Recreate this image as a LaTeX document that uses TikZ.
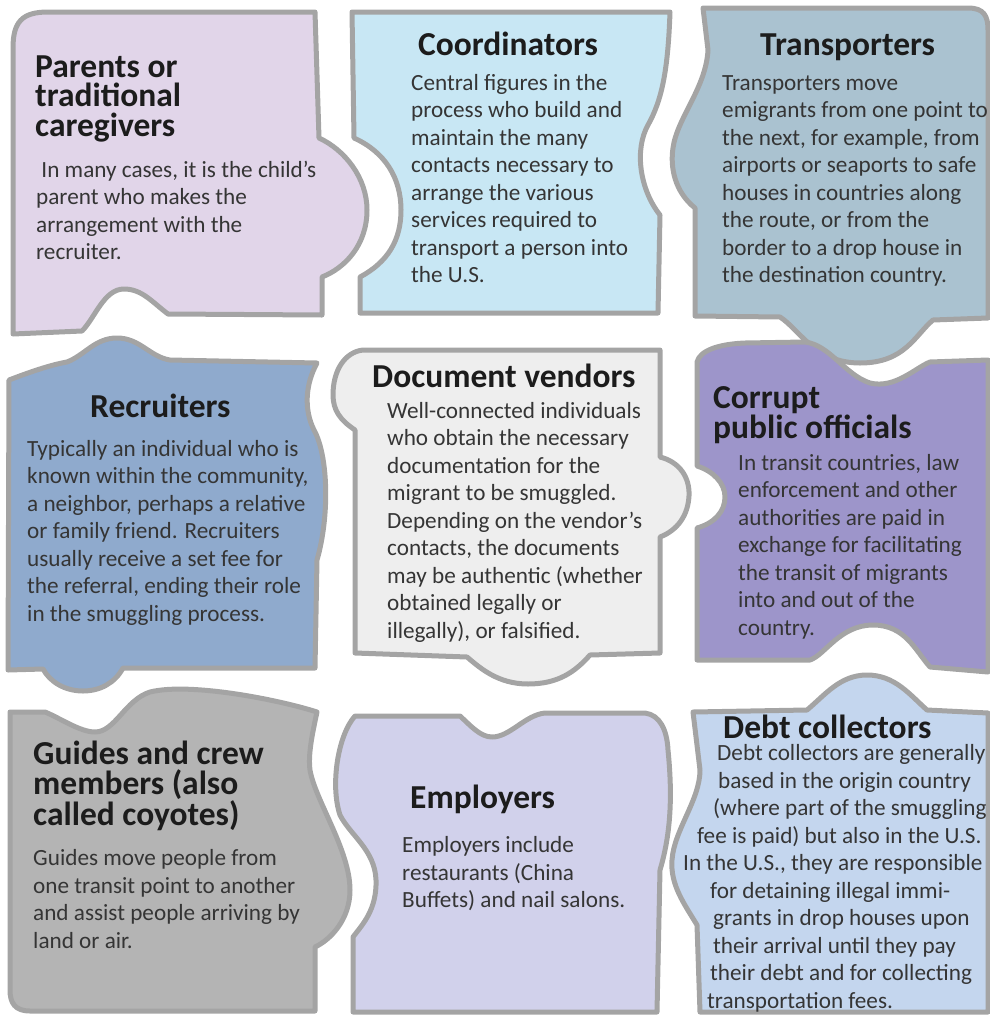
\documentclass[tikz,border=0pt]{standalone}
\usepackage{fontspec}
\setmainfont{Carlito}
\definecolor{edgec}{HTML}{A4A4A4}
\definecolor{parentsc}{HTML}{E1D5E9}
\definecolor{coordc}{HTML}{C8E7F4}
\definecolor{transc}{HTML}{AAC2D0}
\definecolor{recruitc}{HTML}{8FAACD}
\definecolor{docc}{HTML}{EEEEEE}
\definecolor{corruptc}{HTML}{9D95CA}
\definecolor{guidec}{HTML}{B4B4B4}
\definecolor{employc}{HTML}{D1D1EB}
\definecolor{debtc}{HTML}{C4D6EE}
\definecolor{titlec}{HTML}{1C1C1C}
\definecolor{bodyc}{HTML}{353535}
\begin{document}
\begin{tikzpicture}[x=1pt, y=-1pt, line join=round, line cap=round,
	piece/.style={draw=edgec, line width=5pt},
	ttl/.style={anchor=base west, inner sep=0pt, align=left, text=titlec, font=\fontsize{33.5}{29.5}\selectfont\bfseries},
	txt/.style={anchor=base west, inner sep=0pt, align=left, text=bodyc, font=\fontsize{23.2}{27.5}\selectfont}]
	\useasboundingbox (0,0) rectangle (989,1015);
	% Hàng 1
	\draw[piece, fill=parentsc] (13,48) .. controls (13,22) and (22,12) .. (48,12) -- (315,12) -- (319,138)
	.. controls (345,150) and (367,178) .. (367,210) .. controls (367,245) and (345,268) .. (322,277)
	-- (322,315) -- (168,314) .. controls (152,302) and (142,289) .. (124,289)
	.. controls (104,289) and (95,318) .. (82,331) -- (13,334) -- cycle;
	\draw[piece, fill=coordc] (352,12) -- (670,12) .. controls (668,70) and (662,100) .. (648,125)
	.. controls (634,150) and (640,190) .. (660,215) -- (658,313) -- (360,313) -- (360,277)
	.. controls (388,262) and (401,240) .. (401,210) .. controls (401,178) and (385,152) .. (354,138) -- cycle;
	\draw[piece, fill=transc] (703,8) -- (968,8) .. controls (984,8) and (988,16) .. (988,30) -- (988,318) -- (933,320)
	.. controls (915,335) and (905,363) .. (860,363) .. controls (815,363) and (800,330) .. (780,317)
	-- (695,316) -- (695,208) .. controls (675,192) and (670,168) .. (673,148)
	.. controls (677,118) and (706,88) .. (708,50) -- cycle;
	% Hàng 2
	\draw[piece, fill=recruitc] (9,380) .. controls (30,372) and (50,365) .. (67,362)
	.. controls (85,355) and (95,338) .. (117,338) .. controls (140,338) and (150,357) .. (170,360) -- (317,363)
	.. controls (305,385) and (304,410) .. (314,430) .. controls (328,455) and (330,515) .. (317,560)
	-- (315,668) -- (123,668) .. controls (115,683) and (100,691) .. (83,691)
	.. controls (65,691) and (50,682) .. (43,669) -- (8,670) -- cycle;
	\draw[piece, fill=docc] (363,350) -- (660,350) -- (660,457) .. controls (680,462) and (690,478) .. (689,496)
	.. controls (688,515) and (678,530) .. (660,537) -- (660,653) -- (590,655)
	.. controls (575,672) and (558,684) .. (528,684) .. controls (498,684) and (480,668) .. (467,657)
	-- (355,653) -- (355,430) .. controls (340,420) and (333,410) .. (333,395)
	.. controls (333,370) and (345,352) .. (363,350) -- cycle;
	\draw[piece, fill=corruptc] (697,362) .. controls (700,350) and (720,344) .. (745,343) -- (805,342)
	.. controls (830,345) and (845,375) .. (870,383) .. controls (895,389) and (915,368) .. (930,362)
	-- (988,360) -- (988,672) -- (930,667) .. controls (915,650) and (905,625) .. (873,625)
	.. controls (840,625) and (825,655) .. (810,660) -- (697,660) -- (697,528)
	.. controls (715,523) and (725,511) .. (725,497) .. controls (725,483) and (713,471) .. (697,466) -- cycle;
	% Hàng 3
	\draw[piece, fill=guidec] (10,712) -- (45,712) .. controls (60,718) and (80,732) .. (95,732)
	.. controls (115,732) and (125,700) .. (150,692) .. controls (190,682) and (280,700) .. (317,712)
	.. controls (312,735) and (308,755) .. (310,770) .. controls (315,800) and (350,850) .. (350,890)
	.. controls (350,920) and (330,940) .. (315,947) -- (315,1011) -- (30,1011)
	.. controls (15,1011) and (10,1003) .. (10,990) -- cycle;
	\draw[piece, fill=employc] (355,716) -- (460,716) .. controls (470,725) and (480,737) .. (492,737)
	.. controls (510,737) and (525,715) .. (545,713) -- (645,713) .. controls (660,715) and (667,730) .. (668,750)
	.. controls (672,790) and (672,830) .. (660,870) -- (657,1012) -- (353,1012) -- (353,937)
	.. controls (362,925) and (377,910) .. (376,880) .. controls (375,850) and (350,835) .. (340,815)
	.. controls (330,785) and (338,735) .. (355,716) -- cycle;
	\draw[piece, fill=debtc] (693,712) -- (807,710) .. controls (825,695) and (840,675) .. (867,675)
	.. controls (895,675) and (910,695) .. (927,710) -- (988,713) -- (988,1012) -- (700,1012) -- (697,925)
	.. controls (685,905) and (670,885) .. (672,860) .. controls (674,830) and (700,800) .. (700,770) -- cycle;
	% Chữ (toạ độ = đường cơ sở của dòng cuối)
	\node[ttl] (parentsT) at (35,136) {Parents or\\traditional\\caregivers};
	\node[txt] (parentsB) at (36,259.5) {\ In many cases, it is the child’s\\parent who makes the\\arrangement with the\\recruiter.};
	\node[ttl] (coordT) at (418,55) {Coordinators};
	\node[txt] (coordB) at (411,282.5) {Central figures in the\\process who build and\\maintain the many\\contacts necessary to\\arrange the various\\services required to\\transport a person into\\the U.S.};
	\node[ttl] (transT) at (760,55) {Transporters};
	\node[txt] (transB) at (722,282.5) {Transporters move\\emigrants from one point to\\the next, for example, from\\airports or seaports to safe\\houses in countries along\\the route, or from the\\border to a drop house in\\the destination country.};
	\node[ttl] (recrT) at (90,417) {Recruiters};
	\node[txt] (recrB) at (27,621) {Typically an individual who is\\known within the community,\\a neighbor, perhaps a relative\\or family friend. Recruiters\\usually receive a set fee for\\the referral, ending their role\\in the smuggling process.};
	\node[ttl] (docT) at (372,387) {Document vendors};
	\node[txt] (docB) at (387,638) {Well-connected individuals\\who obtain the necessary\\documentation for the\\migrant to be smuggled.\\Depending on the vendor’s\\contacts, the documents\\may be authentic (whether\\obtained legally or\\illegally), or falsified.};
	\node[ttl] (corrT) at (713,438) {Corrupt\\public officials};
	\node[txt] (corrB) at (738,635) {In transit countries, law\\enforcement and other\\authorities are paid in\\exchange for facilitating\\the transit of migrants\\into and out of the\\country.};
	\node[ttl] (guideT) at (33,825) {Guides and crew\\members (also\\called coyotes)};
	\node[txt] (guideB) at (33,948) {Guides move people from\\one transit point to another\\and assist people arriving by\\land or air.};
	\node[ttl] (emplT) at (410,808) {Employers};
	\node[txt] (emplB) at (402,907.5) {Employers include\\restaurants (China\\Buffets) and nail salons.};
	\node[ttl] (debtT) at (723,738) {Debt collectors};
	\node[txt] (debtB) at (683,1008) {\hspace*{34pt}Debt collectors are generally\\\hspace*{35pt}based in the origin country\\\hspace*{30pt}(where part of the smuggling\\\hspace*{14pt}fee is paid) but also in the U.S.\\In the U.S., they are responsible\\\hspace*{27pt}for detaining illegal immi-\\\hspace*{30pt}grants in drop houses upon\\\hspace*{30pt}their arrival until they pay\\\hspace*{27pt}their debt and for collecting\\\hspace*{24pt}transportation fees.};
\end{tikzpicture}
\end{document}
